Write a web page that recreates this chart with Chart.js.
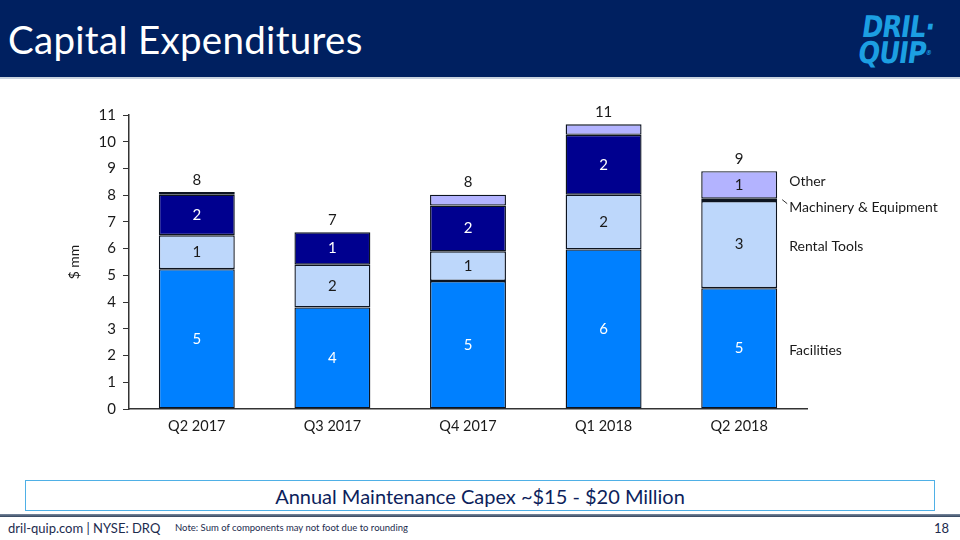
<!DOCTYPE html>
<html>
<head>
<meta charset="utf-8">
<script src="https://cdn.jsdelivr.net/npm/chart.js@4.4.0/dist/chart.umd.min.js"></script>
<style>
  html, body { margin: 0; padding: 0; background: #fff; }
  body { width: 960px; height: 540px; position: relative; overflow: hidden; font-family: 'Lato', 'Open Sans', sans-serif; }
  .header { position: absolute; left: 0; top: 0; width: 960px; height: 77px; background: #002060; border-bottom: 2px solid #c9d3df; }
  .title { position: absolute; left: 8px; top: 16px; color: #fff; font-size: 38.5px; letter-spacing: 0.3px; }
  .logo { position: absolute; left: 864px; top: 14px; color: #1c9fe2; font-family: 'DejaVu Sans', sans-serif; font-weight: bold;
          font-size: 30px; line-height: 26px; transform: skewX(-8deg) scaleX(0.85); transform-origin: left top; letter-spacing: -1px; }
  .logo sup { font-size: 7px; vertical-align: top; }
  .chart-wrap { position: absolute; left: 0; top: 90px; width: 960px; height: 360px; }
  .capex { position: absolute; left: 25px; top: 480px; width: 908px; height: 29px; border: 1px solid #4fb0e6;
           text-align: center; line-height: 30px; font-size: 20px; color: #0d1f5c; }
  .rule { position: absolute; left: 0; top: 514px; width: 960px; height: 3px; background: linear-gradient(#7a8aa0, #33445c); }
  .foot { position: absolute; left: 8px; top: 519px; font-size: 13px; color: #1c2b4e; line-height: 18px; }
  .note { position: absolute; left: 175px; top: 521px; font-size: 9.5px; color: #1c2b4e; line-height: 14px; }
  .page { position: absolute; left: 934px; top: 519px; font-size: 13px; color: #1c2b4e; line-height: 18px; }
</style>
</head>
<body>
<div class="header">
  <div class="title">Capital Expenditures</div>
  <div class="logo">DRIL·<br>QUIP<sup>®</sup></div>
</div>
<div class="chart-wrap"><canvas id="capex"></canvas></div>
<div class="capex">Annual Maintenance Capex ~$15 - $20 Million</div>
<div class="rule"></div>
<div class="foot">dril-quip.com | NYSE: DRQ</div>
<div class="note">Note: Sum of components may not foot due to rounding</div>
<div class="page">18</div>

<script>
  // 数据
  const quarters = ['Q2 2017', 'Q3 2017', 'Q4 2017', 'Q1 2018', 'Q2 2018'];
  const facilities = [5.23, 3.80, 4.79, 5.97, 4.52];
  const rentalTools = [1.27, 1.60, 1.11, 2.05, 3.26];
  const machinery = [1.52, 1.21, 1.71, 2.24, 0.09];
  const other = [0.10, 0.00, 0.41, 0.39, 1.03];
  const seriesNames = ['Facilities', 'Rental Tools', 'Machinery & Equipment', 'Other'];
  const yTicks = [0, 1, 2, 3, 4, 5, 6, 7, 8, 9, 10, 11];

  const colors = ['#0080ff', '#bdd7fb', '#00008f', '#b3b3ff'];
  const labelColors = ['#ffffff', '#1a1a1a', '#ffffff', '#1a1a1a'];
  const FONT = "'Lato', 'Open Sans', sans-serif";

  // 段内数值、柱顶合计、右侧系列名
  const labelPlugin = {
    id: 'capexLabels',
    afterDatasetsDraw(chart) {
      const c = chart.ctx;
      const metas = chart.data.datasets.map((d, i) => chart.getDatasetMeta(i));
      c.save();
      c.font = '15px ' + FONT;
      c.textAlign = 'center';
      c.textBaseline = 'middle';
      metas.forEach((meta, di) => {
        meta.data.forEach((el, i) => {
          const v = chart.data.datasets[di].data[i];
          if (v < 0.5) return;
          c.fillStyle = labelColors[di];
          c.fillText(Math.round(v), el.x, (el.y + el.base) / 2);
        });
      });
      // 合计
      c.fillStyle = '#1a1a1a';
      quarters.forEach((q, i) => {
        const total = facilities[i] + rentalTools[i] + machinery[i] + other[i];
        const y = chart.scales.y.getPixelForValue(total);
        c.fillText(Math.round(total), metas[0].data[i].x, y - 12);
      });
      // 系列名称（对齐最后一根柱）
      const last = quarters.length - 1;
      const x0 = metas[0].data[last].x + 50;
      const offsets = [2, 2, 8, -3];
      c.font = '14px ' + FONT;
      c.textAlign = 'left';
      metas.forEach((meta, di) => {
        const el = meta.data[last];
        c.fillText(seriesNames[di], x0, (el.y + el.base) / 2 + offsets[di]);
      });
      // 引线
      const m = metas[2].data[last];
      c.strokeStyle = '#333';
      c.lineWidth = 1;
      c.beginPath();
      c.moveTo(x0 - 7, m.y + 1);
      c.lineTo(x0 - 2, m.y + 5);
      c.stroke();
      c.restore();
    }
  };

  new Chart(document.getElementById('capex'), {
    type: 'bar',
    data: {
      labels: quarters,
      datasets: [facilities, rentalTools, machinery, other].map((d, i) => ({
        label: seriesNames[i],
        data: d,
        backgroundColor: colors[i],
        borderColor: '#0d1420',
        borderWidth: 1.4,
        borderSkipped: false,
        inflateAmount: 0,
        barPercentage: 0.56,
        categoryPercentage: 1
      }))
    },
    options: {
      responsive: true,
      maintainAspectRatio: false,
      animation: false,
      layout: { padding: { top: 25, right: 153, bottom: 0, left: 0 } },
      plugins: { legend: { display: false }, tooltip: { enabled: false } },
      scales: {
        x: {
          stacked: true,
          grid: { display: false, drawTicks: false },
          border: { display: true, color: '#333', width: 1.5 },
          ticks: { color: '#1a1a1a', font: { size: 14.5, family: FONT }, padding: 9 },
          afterFit: (s) => { s.height = 41; }
        },
        y: {
          stacked: true,
          min: 0,
          max: 11,
          afterBuildTicks: (s) => { s.ticks = yTicks.map(v => ({ value: v })); },
          grid: { drawOnChartArea: false, drawTicks: true, tickLength: 6, color: '#333' },
          border: { display: true, color: '#333', width: 1.5 },
          ticks: { color: '#1a1a1a', font: { size: 15, family: FONT }, padding: 7 },
          title: { display: true, text: '$ mm', color: '#1a1a1a', font: { size: 14, family: FONT }, padding: { top: 66, bottom: 0 } },
          afterFit: (s) => { s.width = 129; }
        }
      }
    },
    plugins: [labelPlugin]
  });
</script>
</body>
</html>
